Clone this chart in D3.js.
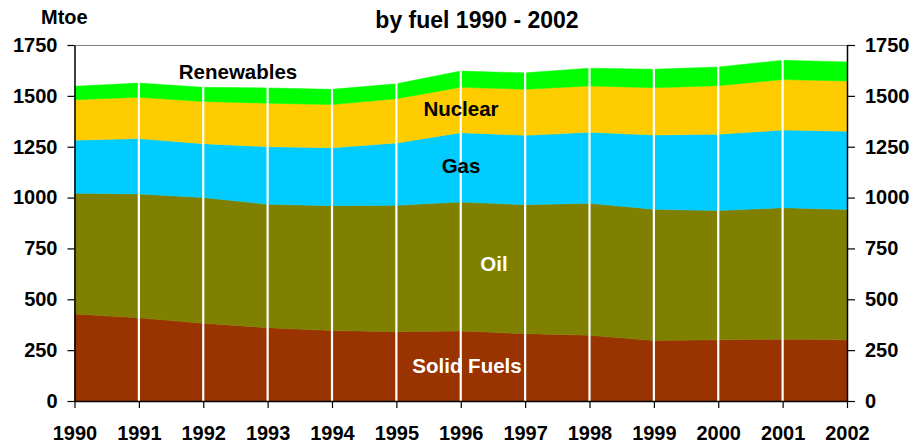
<!DOCTYPE html>
<html>
<head>
<meta charset="utf-8">
<script src="https://cdn.jsdelivr.net/npm/d3@7"></script>
<style>
  html, body { margin: 0; padding: 0; background: #fff; }
  svg { display: block; }
  text { font-family: "Liberation Sans", Arial, sans-serif; font-weight: bold; }
</style>
</head>
<body>
<svg id="chart" width="914" height="444"></svg>
<script>
// ---- Data (Mtoe) ----
const years = [1990, 1991, 1992, 1993, 1994, 1995, 1996, 1997, 1998, 1999, 2000, 2001, 2002];
const solidFuels = [428, 409, 382, 360, 346, 341, 344, 331, 323, 297, 301, 303, 301];
const oil        = [593, 609, 618, 607, 614, 621, 634, 634, 649, 645, 635, 647, 640];
const gas        = [261, 272, 265, 283, 285, 306, 341, 341, 349, 366, 375, 382, 385];
const nuclear    = [199, 203, 207, 214, 212, 218, 223, 226, 228, 232, 239, 248, 247];
const renewables = [ 66,  70,  70,  75,  75,  73,  80,  81,  87,  91,  92,  95,  94];
const yTicks = [0, 250, 500, 750, 1000, 1250, 1500, 1750];
const seriesNames = ["Solid Fuels", "Oil", "Gas", "Nuclear", "Renewables"];
const seriesColors = ["#993300", "#808000", "#00CCFF", "#FFCC00", "#00FF00"];
const titleText = "by fuel 1990 - 2002";
const unitText = "Mtoe";

// ---- Build table ----
const seriesValues = [solidFuels, oil, gas, nuclear, renewables];
const table = years.map((yr, i) => {
  const row = { year: yr };
  seriesNames.forEach((n, k) => row[n] = seriesValues[k][i]);
  return row;
});

const svg = d3.select("#chart");
const x = d3.scaleLinear().domain([1990, 2002]).range([74.5, 847]);
const y = d3.scaleLinear().domain([0, 1750]).range([401, 45]);

const stack = d3.stack().keys(seriesNames);
const stacked = stack(table);

const area = d3.area()
  .x(d => x(d.data.year))
  .y0(d => y(d[0]))
  .y1(d => y(d[1]));

svg.append("g").selectAll("path")
  .data(stacked)
  .join("path")
  .attr("d", area)
  .attr("fill", (d, i) => seriesColors[i])
  .attr("stroke", (d, i) => seriesColors[i])
  .attr("stroke-width", 0.5);

// white vertical separators at each interior year
svg.append("g").selectAll("line")
  .data(years.slice(1, -1))
  .join("line")
  .attr("x1", d => x(d)).attr("x2", d => x(d))
  .attr("y1", y(1750)).attr("y2", y(0))
  .attr("stroke", "#fff")
  .attr("stroke-width", 2.2);

// top border
svg.append("line")
  .attr("x1", x(1990)).attr("x2", x(2002))
  .attr("y1", y(1750) + 0.5).attr("y2", y(1750) + 0.5)
  .attr("stroke", "#808080").attr("stroke-width", 1.2);

// axes
const fontSize = 20;
const fmt = d3.format("d");
const left = svg.append("g").attr("transform", `translate(${x(1990)},0)`)
  .call(d3.axisLeft(y).tickValues(yTicks).tickFormat(fmt).tickSize(7).tickSizeOuter(0).tickPadding(10));
const right = svg.append("g").attr("transform", `translate(${x(2002)},0)`)
  .call(d3.axisRight(y).tickValues(yTicks).tickFormat(fmt).tickSize(8).tickSizeOuter(0).tickPadding(10));
const bottom = svg.append("g").attr("transform", `translate(0,${y(0)})`)
  .call(d3.axisBottom(x).tickValues(years).tickFormat(fmt).tickSize(7).tickSizeOuter(0).tickPadding(18));

[left, right, bottom].forEach(g => {
  g.selectAll("text")
    .attr("font-size", fontSize)
    .attr("font-family", "'Liberation Sans', Arial, sans-serif")
    .attr("font-weight", "bold")
    .attr("fill", "#000");
  g.selectAll("line").attr("stroke", "#000").attr("stroke-width", 1.2);
  g.select(".domain").attr("stroke", "#000").attr("stroke-width", 1.5);
});

// title & unit
svg.append("text")
  .attr("x", 477).attr("y", 28)
  .attr("text-anchor", "middle")
  .attr("font-size", 23)
  .text(titleText);
svg.append("text")
  .attr("x", 41).attr("y", 24)
  .attr("font-size", 20)
  .text(unitText);

// series labels
const labelPos = [
  { name: "Solid Fuels", x: 467, y: 373, color: "#fff" },
  { name: "Oil",         x: 494, y: 271, color: "#fff" },
  { name: "Gas",         x: 461, y: 173, color: "#000" },
  { name: "Nuclear",     x: 461, y: 116, color: "#000" },
  { name: "Renewables",  x: 238, y: 79,  color: "#000" }
];
svg.append("g").selectAll("text")
  .data(labelPos)
  .join("text")
  .attr("x", d => d.x).attr("y", d => d.y)
  .attr("text-anchor", "middle")
  .attr("font-size", 20.5)
  .attr("fill", d => d.color)
  .text(d => d.name);
</script>
</body>
</html>
